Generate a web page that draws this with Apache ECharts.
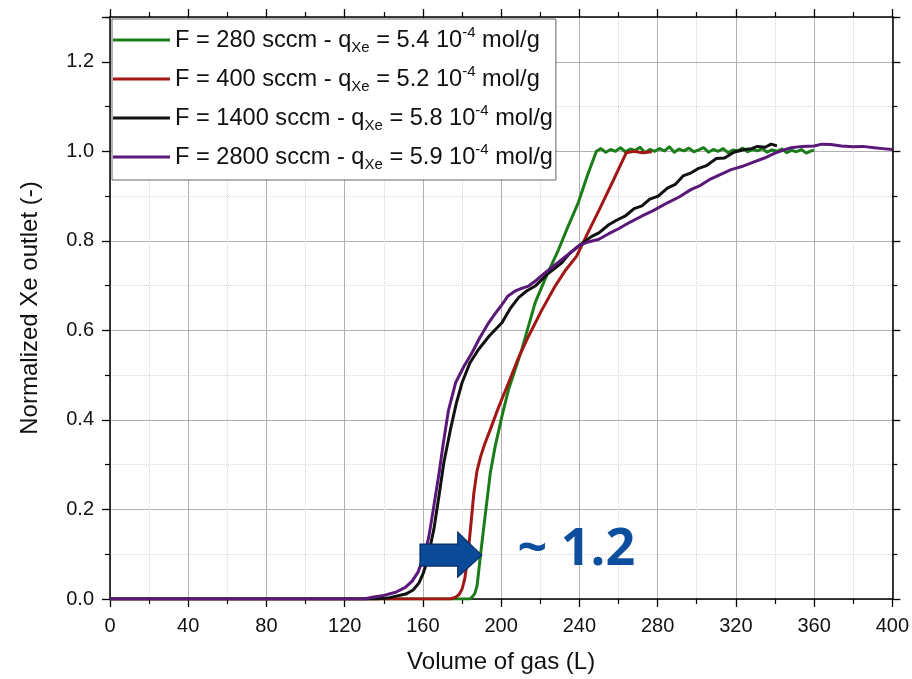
<!DOCTYPE html>
<html>
<head>
<meta charset="UTF-8">
<title>Xe breakthrough</title>
<script src="https://cdn.jsdelivr.net/npm/echarts@6/dist/echarts.min.js"></script>
<style>
  html, body { margin: 0; padding: 0; background: #fff; }
  #main { width: 912px; height: 679px; }
</style>
</head>
<body>
<div id="main"></div>
<script>
// legend info
var flows = [280, 400, 1400, 2800];
var qXe = ['5.4', '5.2', '5.8', '5.9'];
var colors = ['#1a7d1a', '#a31616', '#111111', '#5a1878'];

// volume of gas (L) / normalized outlet
var x280 = [0, 184, 185.1, 186.5, 187.7, 189.4, 192.0, 194.5, 197.0, 200.5, 203.8, 210.6, 217.4, 223, 229.3, 234, 239.5, 244, 248.7,
  251, 253.5, 256, 258.5, 261, 263.5, 266, 268.5, 271, 273.5, 276, 278.5, 281, 283.5, 286, 288.5, 291, 293.5, 296, 298.5,
  301, 303.5, 306, 308.5, 311, 313.5, 316, 318.5, 321, 323.5, 326, 328.5, 331, 333.5, 336, 338.5, 341, 343.5, 346, 348.5,
  351, 353.5, 356, 358.5, 360];
var y280 = [0, 0, 0.004, 0.012, 0.03, 0.097, 0.193, 0.283, 0.342, 0.41, 0.468, 0.558, 0.662, 0.72, 0.78, 0.83, 0.886, 0.945, 1.0,
  1.006, 0.998, 1.004, 1.0, 1.008, 0.999, 1.005, 1.002, 1.009, 0.997, 1.004, 1.0, 1.006, 1.001, 1.01, 0.998, 1.005, 1.001,
  1.007, 0.999, 1.003, 1.008, 0.998, 1.004, 1.0, 1.006, 0.997, 1.003, 1.001, 1.007, 0.999, 1.004, 1.001, 1.006, 0.998,
  1.003, 1.0, 1.005, 0.997, 1.002, 0.999, 1.004, 0.996, 1.001, 1.002];

var x400 = [0, 174, 176.7, 178.5, 180.0, 181.4, 182.6, 184.3, 186.0, 187.6, 189.5, 191.5, 195.0, 199, 203.8, 208.5, 214.0, 220.5,
  227.6, 233, 238.6, 244, 250, 257, 264, 268, 272, 277];
var y400 = [0, 0, 0.004, 0.01, 0.022, 0.045, 0.082, 0.156, 0.235, 0.285, 0.318, 0.345, 0.385, 0.432, 0.483, 0.535, 0.587, 0.643,
  0.699, 0.735, 0.766, 0.815, 0.868, 0.932, 0.997, 1.0, 0.997, 0.999];

var x1400 = [0, 136, 143, 151.2, 155, 158.0, 160.2, 162.2, 165.6, 168.2, 170.7, 174.1, 177, 180.0, 184, 188.5, 194, 200.4, 204.5,
  208.9, 213, 217.4, 224, 231.0, 235, 239.5, 246.3, 250, 255, 259, 263.3, 268, 272, 276, 280.3, 285, 289, 293, 297.2, 301,
  305, 310, 314.2, 319, 324.4, 328, 331, 335, 338, 341];
var y1400 = [0, 0, 0.003, 0.011, 0.02, 0.036, 0.058, 0.085, 0.156, 0.23, 0.305, 0.379, 0.436, 0.483, 0.527, 0.558, 0.588, 0.617,
  0.648, 0.673, 0.688, 0.699, 0.727, 0.751, 0.772, 0.788, 0.81, 0.818, 0.836, 0.846, 0.855, 0.872, 0.878, 0.893, 0.9, 0.918,
  0.926, 0.945, 0.952, 0.962, 0.968, 0.984, 0.985, 0.998, 1.004, 1.006, 1.011, 1.009, 1.016, 1.012];

var x2800 = [0, 130, 134.0, 140, 146.1, 151, 154.5, 157.5, 159.6, 161.5, 163.1, 165.6, 168.2, 170.5, 173, 176.7, 181, 185.1,
  189, 193.6, 197, 200, 203.5, 207.2, 210.5, 214.0, 218, 222.5, 228, 234.4, 239.5, 244, 249.7, 255, 260, 266, 271.8, 278,
  285, 291, 297.2, 302, 307, 312, 317.6, 323, 329, 334.6, 340, 344, 348.2, 354, 360, 364, 368.6, 374, 380, 385, 390.7, 395, 400];
var y2800 = [0, 0, 0.004, 0.008, 0.015, 0.026, 0.04, 0.06, 0.085, 0.11, 0.141, 0.208, 0.28, 0.35, 0.42, 0.483, 0.52, 0.55,
  0.583, 0.617, 0.638, 0.655, 0.677, 0.688, 0.694, 0.699, 0.712, 0.729, 0.748, 0.77, 0.788, 0.797, 0.803, 0.816, 0.827,
  0.842, 0.855, 0.868, 0.885, 0.898, 0.915, 0.924, 0.938, 0.948, 0.959, 0.966, 0.976, 0.985, 0.996, 1.002, 1.008, 1.011,
  1.012, 1.016, 1.015, 1.012, 1.01, 1.011, 1.008, 1.006, 1.004];

var xs = [x280, x400, x1400, x2800];
var ys = [y280, y400, y1400, y2800];

var names = flows.map(function (f, i) {
  return 'F = ' + f + ' sccm - qXe = ' + qXe[i] + ' 10-4 mol/g';
});

var font = '"Liberation Sans", Arial, sans-serif';

var series = names.map(function (n, i) {
  return {
    name: n,
    type: 'line',
    symbol: 'none',
    data: xs[i].map(function (v, j) { return [v, ys[i][j]]; }),
    lineStyle: { color: colors[i], width: 3, join: 'round' },
    itemStyle: { color: colors[i] },
    z: 2 + i
  };
});

function frameAxis(extra) {
  var a = {
    axisLine: { show: true, onZero: false, lineStyle: { color: '#000', width: 1.5 } },
    axisTick: { show: true, length: 8, lineStyle: { color: '#000', width: 1.3 } },
    minorTick: { show: true, splitNumber: 2, length: 5, lineStyle: { color: '#000', width: 1.2 } },
    splitLine: { show: false },
    axisLabel: { show: false }
  };
  for (var k in extra) a[k] = extra[k];
  return a;
}

var chart = echarts.init(document.getElementById('main'));
chart.setOption({
  animation: false,
  backgroundColor: '#fff',
  grid: { left: 110, right: 16, top: 17, bottom: 79 },
  legend: {
    orient: 'vertical',
    left: 112,
    top: 19,
    data: names,
    icon: 'rect',
    itemWidth: 57,
    itemHeight: 3,
    itemGap: 9,
    itemTextGap: 6,
    padding: [6, 3, 8, 1],
    backgroundColor: '#fff',
    borderColor: '#666',
    borderWidth: 1,
    borderRadius: 0,
    formatter: function (name) {
      var i = names.indexOf(name);
      return 'F = ' + flows[i] + ' sccm - q{sub|Xe} = ' + qXe[i] + ' 10{sup|-4} mol/g';
    },
    textStyle: {
      fontFamily: font, fontSize: 23.6, color: '#111', lineHeight: 30,
      rich: {
        sub: { fontFamily: font, fontSize: 15, color: '#111', lineHeight: 10, verticalAlign: 'bottom' },
        sup: { fontFamily: font, fontSize: 15, color: '#111', lineHeight: 10, verticalAlign: 'top' }
      }
    }
  },
  xAxis: [
    frameAxis({
      type: 'value', min: 0, max: 400, interval: 40,
      name: 'Volume of gas (L)', nameLocation: 'middle', nameGap: 51,
      nameTextStyle: { fontFamily: font, fontSize: 24, color: '#111' },
      axisLabel: { show: true, fontFamily: font, fontSize: 20, color: '#111', margin: 17 },
      splitLine: { show: true, lineStyle: { color: '#b0b0b0', width: 1 } },
      minorSplitLine: { show: true, lineStyle: { color: '#d8d8d8', width: 1, type: 'dotted' } }
    }),
    frameAxis({ type: 'value', position: 'top', min: 0, max: 400, interval: 40 })
  ],
  yAxis: [
    frameAxis({
      type: 'value', min: 0, max: 1.3, interval: 0.2,
      name: 'Normalized Xe outlet (-)', nameLocation: 'middle', nameGap: 68,
      nameTextStyle: { fontFamily: font, fontSize: 24, color: '#111' },
      axisLabel: {
        show: true, fontFamily: font, fontSize: 20, color: '#111', margin: 16, showMaxLabel: false,
        formatter: function (v) { return v.toFixed(1); }
      },
      splitLine: { show: true, lineStyle: { color: '#b0b0b0', width: 1 } },
      minorSplitLine: { show: true, lineStyle: { color: '#d8d8d8', width: 1, type: 'dotted' } }
    }),
    frameAxis({ type: 'value', position: 'right', min: 0, max: 1.3, interval: 0.2 })
  ],
  series: series
});

// shift arrow + ratio text, placed in data units
var arrowPts = [[158.5, 0.1227], [177.8, 0.1227], [177.8, 0.1495], [190.1, 0.098], [177.8, 0.049], [177.8, 0.0736], [158.5, 0.0736]];
var pix = arrowPts.map(function (p) { return chart.convertToPixel({ gridIndex: 0 }, p); });
var txtPos = chart.convertToPixel({ gridIndex: 0 }, [208.4, 0.109]);

chart.setOption({
  graphic: [
    {
      type: 'polygon',
      shape: { points: pix },
      style: { fill: '#0b4a98', stroke: '#062f66', lineWidth: 1.2 },
      z: 100
    },
    {
      type: 'text',
      x: txtPos[0],
      y: txtPos[1],
      style: {
        text: '~ 1.2',
        fill: '#0d4f9e',
        font: 'bold 52px "Open Sans", "Liberation Sans", sans-serif',
        textVerticalAlign: 'middle'
      },
      z: 100
    }
  ]
});
</script>
</body>
</html>
